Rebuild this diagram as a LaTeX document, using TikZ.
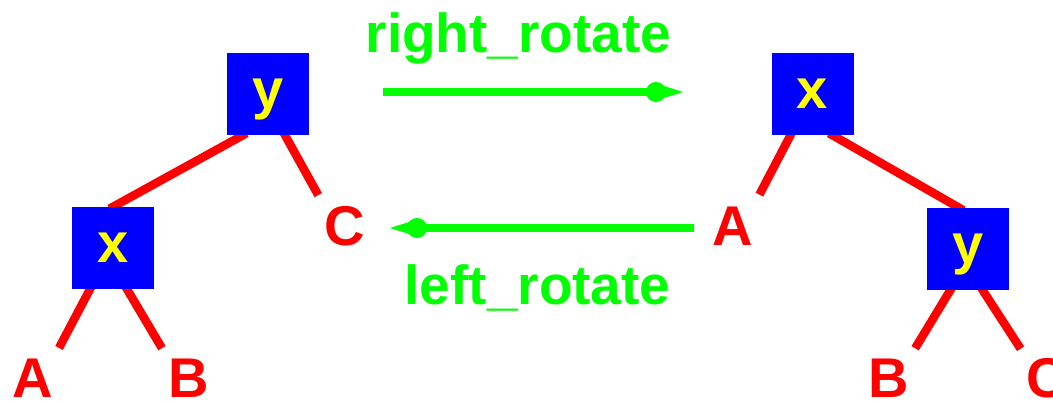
\documentclass[tikz,border=0pt]{standalone}
\usepackage{fontspec}
\setsansfont{Liberation Sans}
\usetikzlibrary{arrows.meta,calc,backgrounds}
\definecolor{boxblue}{HTML}{0000FF}
\definecolor{keyyellow}{HTML}{FFFF00}
\definecolor{edgered}{HTML}{FF0000}
\definecolor{rotgreen}{HTML}{00FF00}

\begin{document}
\begin{tikzpicture}[x=1pt,y=-1pt,font=\sffamily\bfseries,
    keybox/.style={fill=boxblue,text=keyyellow,minimum size=82pt,
      inner sep=0pt,text height=29pt,text depth=0pt,
      font=\sffamily\bfseries\fontsize{56}{56}\selectfont},
    leaf/.style={text=edgered,inner sep=0pt,
      font=\sffamily\bfseries\fontsize{56}{56}\selectfont},
    treeline/.style={edgered,line width=8.5pt},
    rotlabel/.style={text=rotgreen,inner sep=0pt,anchor=base,
      font=\sffamily\bfseries\fontsize{55}{55}\selectfont},
    rotarrow/.style={rotgreen,line width=8pt,
      -{Circle[length=20pt,sep=-8pt]Triangle[length=36pt,width=12pt]}}]
  % page is 1053 x 403, one unit per pixel, y grows downward
  \useasboundingbox (0,0) rectangle (1053,403);

  % tree before the rotation: y on top
  \node[keybox] (ly) at (268,94) {y};
  \node[keybox] (lx) at (113,248) {x};
  \node[leaf] (lA) at (33,378) {A};
  \node[leaf] (lB) at (188.5,378) {B};
  \node[leaf] (lC) at (345,226.5) {C};

  % tree after the rotation: x on top
  \node[keybox] (rx) at (812.5,94) {x};
  \node[keybox] (ry) at (968,249.5) {y};
  \node[leaf] (rA) at (732.5,226.5) {A};
  \node[leaf] (rB) at (888.5,378) {B};
  \node[leaf] (rC) at (1047,378) {C};

  \begin{scope}[on background layer]
    \draw[treeline,shorten <=-4pt,shorten >=-4pt]
      ($(ly.south)+(-25,0)$) -- (lx.north);
    \draw[treeline,shorten <=-4pt,shorten >=13pt]
      ($(ly.south)+(17,0)$) -- (lC.north west);
    \draw[treeline,shorten <=-4pt,shorten >=12pt]
      ($(lx.south)+(-23,0)$) -- (lA.north east);
    \draw[treeline,shorten <=-4pt,shorten >=12pt]
      ($(lx.south)+(14,0)$) -- (lB.north west);
    \draw[treeline,shorten <=-4pt,shorten >=14pt]
      ($(rx.south)+(-22,0)$) -- (rA.north east);
    \draw[treeline,shorten <=-4pt,shorten >=-4pt]
      ($(rx.south)+(20,0)$) -- ($(ry.north)+(-8,0)$);
    \draw[treeline,shorten <=-4pt,shorten >=12pt]
      ($(ry.south)+(-18,0)$) -- (rB.north east);
    \draw[treeline,shorten <=-4pt,shorten >=11pt]
      ($(ry.south)+(15,0)$) -- (rC.north west);
  \end{scope}

  % the two rotations
  \node[rotlabel] (rr) at (518.5,53) {right\_rotate};
  \node[rotlabel] (lr) at (537.5,305) {left\_rotate};
  \coordinate (rrs) at (383,92);
  \coordinate (rre) at (694,92);
  \coordinate (lrs) at (694,228);
  \coordinate (lre) at (379,228);
  \draw[rotarrow] (rrs) -- (rre);
  \draw[rotarrow] (lrs) -- (lre);
\end{tikzpicture}
\end{document}
